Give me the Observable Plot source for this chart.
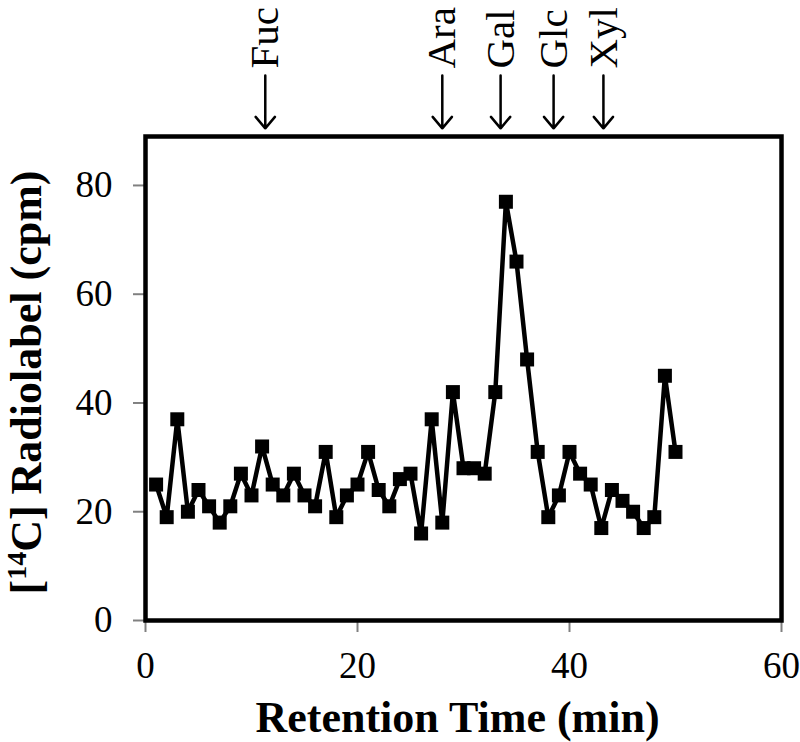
<!DOCTYPE html>
<html><head><meta charset="utf-8">
<script src="https://cdn.jsdelivr.net/npm/d3@7"></script>
<script src="https://cdn.jsdelivr.net/npm/@observablehq/plot@0.6"></script>
<style>body{margin:0;background:#fff} svg{display:block}</style>
</head><body><div id="chart"></div>
<script>
const retentionTimes = [1,2,3,4,5,6,7,8,9,10,11,12,13,14,15,16,17,18,19,20,21,22,23,24,25,26,27,28,29,30,31,32,33,34,35,36,37,38,39,40,41,42,43,44,45,46,47,48,49,50];
const radiolabel = [25,19,37,20,24,21,18,21,27,23,32,25,23,27,23,21,31,19,23,25,31,24,21,26,27,16,37,18,42,28,28,27,42,77,66,48,31,19,23,31,27,25,17,24,22,20,17,19,45,31];
const sugarNames = ["Fuc","Ara","Gal","Glc","Xyl"];
const sugarTimes = [11.3, 28.0, 33.5, 38.5, 43.2];
const xTickValues = [0,20,40,60];
const yTickValues = [0,20,40,60,80];
const xTitle = "Retention Time (min)";
const yTitlePre = "[", yTitleSup = "14", yTitlePost = "C] Radiolabel (cpm)";
const yTitle = yTitlePre + yTitleSup + yTitlePost;

const data = retentionTimes.map((t,i)=>({t, v: radiolabel[i]}));
const sugars = sugarNames.map((name,i)=>({name, t: sugarTimes[i]}));

const chart = Plot.plot({
  width: 800, height: 742,
  marginLeft: 145, marginRight: 19, marginTop: 136, marginBottom: 122,
  style: {fontFamily: "'Liberation Serif', 'Times New Roman', serif", fontSize: "37px", background: "white", color: "black", overflow: "visible"},
  x: {domain: [0,60]},
  y: {domain: [0,89]},
  marks: [
    Plot.axisX({ticks: xTickValues, tickSize: 12, tickPadding: 19, stroke: "#808080", strokeWidth: 2, fill: "black", label: null, fontSize: 37, tickFormat: d => String(d)}),
    Plot.axisY({ticks: yTickValues, tickSize: 12, tickPadding: 21, stroke: "#808080", strokeWidth: 2, fill: "black", label: null, fontSize: 37, tickFormat: d => String(d)}),
    Plot.line(data, {x:"t", y:"v", stroke:"black", strokeWidth:4.5, strokeLinejoin:"miter"}),
    Plot.dot(data, {x:"t", y:"v", symbol:"square", r:7.9, fill:"black", stroke:"none"}),
    Plot.frame({stroke:"black", strokeWidth:4.5}),
    Plot.arrow(sugars, {x1:"t", x2:"t", y1:100.2, y2:90.5, stroke:"black", strokeWidth:2.5, headAngle:80, headLength:9}),
    Plot.text(sugars, {x:"t", y:101.5, text:"name", rotate:-90, textAnchor:"start", lineAnchor:"middle", fontSize:41, fill:"black"}),
    Plot.text([xTitle], {frameAnchor:"bottom", dx:-6, dy:111, text:d=>d, fontWeight:"bold", fontSize:44, textAnchor:"middle", lineAnchor:"bottom", fill:"black"}),
    Plot.text([yTitle], {frameAnchor:"left", dx:-105, dy:4, rotate:-90, text:d=>d, fontWeight:"bold", fontSize:44, textAnchor:"middle", lineAnchor:"bottom", fill:"black"})
  ]
});
document.getElementById("chart").appendChild(chart);

// superscript for the 14 in the y title
const yt = [...chart.querySelectorAll("text")].find(e => e.textContent === yTitle);
if (yt) {
  yt.textContent = "";
  yt.setAttribute("text-anchor", "middle");
  const ns = "http://www.w3.org/2000/svg";
  const a = document.createElementNS(ns, "tspan"); a.textContent = yTitlePre; yt.appendChild(a);
  const s = document.createElementNS(ns, "tspan"); s.textContent = yTitleSup; s.setAttribute("font-size", "28"); s.setAttribute("dy", "-15"); yt.appendChild(s);
  const b = document.createElementNS(ns, "tspan"); b.textContent = yTitlePost; b.setAttribute("dy", "15"); yt.appendChild(b);
}
</script>
</body></html>
